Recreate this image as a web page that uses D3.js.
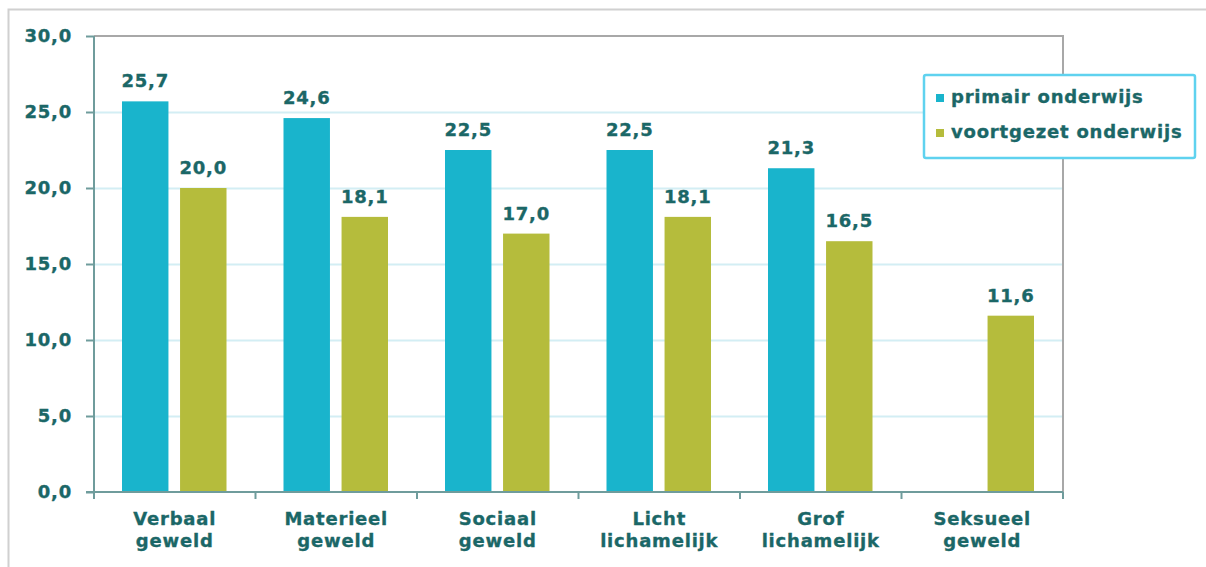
<!DOCTYPE html>
<html>
<head>
<meta charset="utf-8">
<script src="https://cdn.jsdelivr.net/npm/d3@7"></script>
<style>
  body { margin: 0; background: #fff; }
  svg { display: block; font-family: "DejaVu Sans", Verdana, sans-serif; }
  svg text { letter-spacing: 0.8px; stroke: #1b6767; stroke-width: 0.35px; }
</style>
</head>
<body>
<div id="chart"></div>
<script>
const categories = [
  ['Verbaal', 'geweld'],
  ['Materieel', 'geweld'],
  ['Sociaal', 'geweld'],
  ['Licht', 'lichamelijk'],
  ['Grof', 'lichamelijk'],
  ['Seksueel', 'geweld']
];
const seriesNames = ['primair onderwijs', 'voortgezet onderwijs'];
const primair = [25.7, 24.6, 22.5, 22.5, 21.3, null];
const voortgezet = [20.0, 18.1, 17.0, 18.1, 16.5, 11.6];
const yTicks = [0, 5, 10, 15, 20, 25, 30];

const width = 1206;
const height = 567;
const margin = {top: 36, right: 143, bottom: 75, left: 94};
const colors = ['#19b4cc', '#b5bc3c'];
const textColor = '#1b6767';
const fontSize = 18;

const fmt = v => d3.format('.1f')(v).replace('.', ',');

const svg = d3.select('#chart')
  .append('svg')
  .attr('width', width)
  .attr('height', height);

// outer frame
svg.append('path')
  .attr('d', `M8.5,${height} V9.5 H${width}`)
  .attr('fill', 'none')
  .attr('stroke', '#d0d0d0')
  .attr('stroke-width', 2);

const x = d3.scaleBand()
  .domain(d3.range(categories.length))
  .range([margin.left, width - margin.right]);

const x1 = d3.scaleBand()
  .domain([0, 1])
  .range([28, x.bandwidth() - 29])
  .paddingInner(0.2);

const y = d3.scaleLinear()
  .domain([0, 30])
  .range([height - margin.bottom, margin.top]);

// grid
svg.append('g')
  .selectAll('line')
  .data(yTicks.slice(1, -1))
  .join('line')
  .attr('x1', margin.left)
  .attr('x2', width - margin.right)
  .attr('y1', d => y(d) + 0.5)
  .attr('y2', d => y(d) + 0.5)
  .attr('stroke', '#d3eef4')
  .attr('stroke-width', 2);

// top/right border of plot area
svg.append('path')
  .attr('d', `M${margin.left},${margin.top} H${width - margin.right} V${height - margin.bottom}`)
  .attr('fill', 'none')
  .attr('stroke', '#a8a8a8')
  .attr('stroke-width', 2);

const series = [primair, voortgezet];

series.forEach((vals, s) => {
  const g = svg.append('g');
  const data = vals.map((v, i) => ({i, v})).filter(d => d.v != null);
  g.selectAll('rect')
    .data(data)
    .join('rect')
    .attr('x', d => x(d.i) + x1(s))
    .attr('y', d => y(d.v))
    .attr('width', x1.bandwidth())
    .attr('height', d => y(0) - y(d.v))
    .attr('fill', colors[s]);
  g.selectAll('text')
    .data(data)
    .join('text')
    .attr('x', d => x(d.i) + x1(s) + x1.bandwidth() / 2)
    .attr('y', d => y(d.v) - 14)
    .attr('text-anchor', 'middle')
    .attr('font-size', fontSize)
    .attr('font-weight', 'bold')
    .attr('fill', textColor)
    .text(d => fmt(d.v));
});

// y axis
const yAxis = svg.append('g')
  .attr('transform', `translate(${margin.left},0)`)
  .call(d3.axisLeft(y).tickValues(yTicks).tickSize(8).tickPadding(14).tickFormat(fmt));
yAxis.selectAll('text')
  .attr('font-size', fontSize)
  .attr('font-weight', 'bold')
  .attr('fill', textColor)
  .attr('font-family', '"DejaVu Sans", Verdana, sans-serif');
yAxis.selectAll('line, path').attr('stroke', '#6f9c9c').attr('stroke-width', 2);
yAxis.select('.domain').attr('d', `M${0},${y(30)}V${y(0)}`);

// x axis
const xAxis = svg.append('g')
  .attr('transform', `translate(0,${height - margin.bottom})`);
xAxis.append('line')
  .attr('x1', margin.left - 8)
  .attr('x2', width - margin.right)
  .attr('stroke', '#6f9c9c')
  .attr('stroke-width', 2);
xAxis.selectAll('.tick')
  .data(d3.range(categories.length + 1))
  .join('line')
  .attr('class', 'tick')
  .attr('x1', i => i < categories.length ? x(i) : x(i - 1) + x.bandwidth())
  .attr('x2', i => i < categories.length ? x(i) : x(i - 1) + x.bandwidth())
  .attr('y1', 0)
  .attr('y2', 7)
  .attr('stroke', '#6f9c9c')
  .attr('stroke-width', 2);

const catLabels = xAxis.selectAll('text')
  .data(categories)
  .join('text')
  .attr('text-anchor', 'middle')
  .attr('font-size', fontSize)
  .attr('font-weight', 'bold')
  .attr('fill', textColor);
catLabels.selectAll('tspan')
  .data((d, i) => d.map(t => ({t, i})))
  .join('tspan')
  .attr('x', d => x(d.i) + x.bandwidth() / 2)
  .attr('y', (d, j) => 33 + j * 22)
  .text(d => d.t);

// legend
const legend = svg.append('g').attr('transform', 'translate(924,75)');
legend.append('rect')
  .attr('width', 271)
  .attr('height', 83)
  .attr('rx', 2)
  .attr('fill', '#fff')
  .attr('stroke', '#5fd2ef')
  .attr('stroke-width', 2.5);
const items = legend.selectAll('g.item')
  .data(seriesNames)
  .join('g')
  .attr('class', 'item')
  .attr('transform', (d, i) => `translate(12,${28 + i * 35})`);
items.append('rect')
  .attr('y', -9)
  .attr('width', 8)
  .attr('height', 8)
  .attr('fill', (d, i) => colors[i]);
items.append('text')
  .attr('x', 15)
  .attr('font-size', fontSize)
  .attr('font-weight', 'bold')
  .attr('fill', textColor)
  .text(d => d);
</script>
</body>
</html>
